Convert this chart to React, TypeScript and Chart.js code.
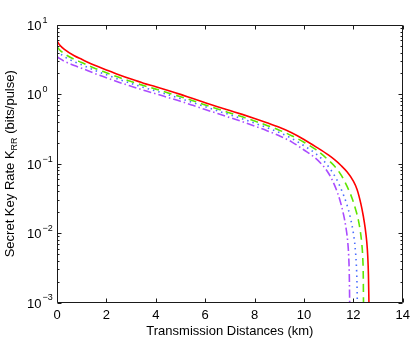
import React, { useEffect, useRef } from "react";
import { Chart, registerables } from "chart.js";

Chart.register(...registerables);

const FONT = '"Liberation Sans", Arial, Helvetica, sans-serif';

const xTicks = [0, 2, 4, 6, 8, 10, 12, 14];
const yDecades = [-3, -2, -1, 0, 1];

const redDist = [0, 0.1, 0.3, 0.7, 1, 1.5, 2, 2.5, 3, 3.5, 4, 4.5, 5, 5.5, 6, 6.5, 7, 7.5, 8, 8.5, 9, 9.5, 10, 10.5, 11, 11.25, 11.5, 11.75, 12, 12.15, 12.3, 12.4, 12.48, 12.54, 12.58, 12.61, 12.63];
const redRate = [5.9, 5.2, 4.45, 3.6, 3.2, 2.65, 2.25, 1.92, 1.66, 1.45, 1.29, 1.14, 1.0, 0.87, 0.76, 0.665, 0.585, 0.515, 0.45, 0.39, 0.335, 0.28, 0.224, 0.174, 0.133, 0.1135, 0.0944, 0.0759, 0.0562, 0.0427, 0.0269, 0.0178, 0.0117, 0.0076, 0.0048, 0.0025, 0.001];

const greenDist = [0, 0.1, 0.3, 0.7, 1, 1.5, 2, 2.5, 3, 3.5, 4, 4.5, 5, 5.5, 6, 6.5, 7, 7.5, 8, 8.5, 9, 9.5, 10, 10.5, 11, 11.25, 11.5, 11.75, 11.95, 12.1, 12.2, 12.28, 12.34, 12.38, 12.4, 12.41];
const greenRate = [4.9, 4.4, 3.85, 3.2, 2.88, 2.4, 2.05, 1.76, 1.53, 1.34, 1.19, 1.05, 0.925, 0.81, 0.705, 0.615, 0.54, 0.475, 0.413, 0.357, 0.305, 0.254, 0.204, 0.158, 0.112, 0.0912, 0.0692, 0.0468, 0.0316, 0.0214, 0.0155, 0.0107, 0.0071, 0.0044, 0.0025, 0.001];

const blueDist = [0, 0.1, 0.3, 0.7, 1, 1.5, 2, 2.5, 3, 3.5, 4, 4.5, 5, 5.5, 6, 6.5, 7, 7.5, 8, 8.5, 9, 9.5, 10, 10.5, 10.8, 11.05, 11.3, 11.52, 11.72, 11.88, 12.0, 12.07, 12.12, 12.145, 12.16];
const blueRate = [4.3, 3.95, 3.5, 2.95, 2.67, 2.24, 1.92, 1.65, 1.44, 1.26, 1.12, 0.99, 0.87, 0.765, 0.665, 0.58, 0.508, 0.445, 0.385, 0.332, 0.282, 0.232, 0.182, 0.138, 0.11, 0.0851, 0.0617, 0.0417, 0.0269, 0.0166, 0.01, 0.0063, 0.0035, 0.002, 0.001];

const purpleDist = [0, 0.1, 0.3, 0.7, 1, 1.5, 2, 2.5, 3, 3.5, 4, 4.5, 5, 5.5, 6, 6.5, 7, 7.5, 8, 8.5, 9, 9.5, 10, 10.4, 10.75, 11.0, 11.25, 11.45, 11.6, 11.7, 11.77, 11.81, 11.835, 11.85];
const purpleRate = [3.5, 3.3, 3.0, 2.6, 2.38, 2.02, 1.74, 1.5, 1.31, 1.15, 1.02, 0.9, 0.795, 0.695, 0.605, 0.53, 0.463, 0.405, 0.35, 0.3, 0.253, 0.207, 0.158, 0.126, 0.0955, 0.0724, 0.0479, 0.0302, 0.0186, 0.012, 0.0076, 0.0047, 0.0025, 0.001];

const toPoints = (xs: number[], ys: number[]) => xs.map((x, i) => ({ x, y: ys[i] }));

const framePlugin = {
  id: "frame",
  afterDraw(chart: any) {
    const ctx = chart.ctx as CanvasRenderingContext2D;
    const { left, right, top, bottom } = chart.chartArea;
    const xs = chart.scales.x;
    const ys = chart.scales.y;
    const L = Math.round(left) + 0.5;
    const R = Math.round(right) - 0.5;
    const T = Math.round(top) + 0.5;
    const B = Math.round(bottom) - 0.5;
    ctx.save();
    ctx.strokeStyle = "#1a1a1a";
    ctx.lineWidth = 1;
    ctx.beginPath();
    ctx.rect(L, T, R - L, B - T);
    ctx.stroke();
    ctx.beginPath();
    for (const v of xTicks) {
      const px = Math.round(xs.getPixelForValue(v)) + 0.5;
      ctx.moveTo(px, B);
      ctx.lineTo(px, B - 4);
      ctx.moveTo(px, T);
      ctx.lineTo(px, T + 4);
    }
    for (const e of yDecades) {
      const py = Math.round(ys.getPixelForValue(Math.pow(10, e))) + 0.5;
      ctx.moveTo(L, py);
      ctx.lineTo(L + 4, py);
      ctx.moveTo(R, py);
      ctx.lineTo(R - 4, py);
      if (e < 1) {
        for (let m = 2; m <= 9; m++) {
          const pm = Math.round(ys.getPixelForValue(m * Math.pow(10, e))) + 0.5;
          ctx.moveTo(L, pm);
          ctx.lineTo(L + 2, pm);
          ctx.moveTo(R, pm);
          ctx.lineTo(R - 2, pm);
        }
      }
    }
    ctx.stroke();

    ctx.fillStyle = "#000";
    ctx.textBaseline = "middle";
    ctx.textAlign = "left";
    for (const e of yDecades) {
      const py = ys.getPixelForValue(Math.pow(10, e));
      ctx.font = `13px ${FONT}`;
      ctx.fillText("10", 27, py + 1.5);
      const w = ctx.measureText("10").width;
      ctx.font = `9px ${FONT}`;
      const ex = e < 0 ? "\u2212" + Math.abs(e) : String(e);
      ctx.fillText(ex, 27 + w + 1, py - 4.5);
    }

    const main1 = "Secret Key Rate K";
    const sub = "RR";
    const main2 = " (bits/pulse)";
    ctx.font = `13px ${FONT}`;
    const w1 = ctx.measureText(main1).width;
    const w3 = ctx.measureText(main2).width;
    ctx.font = `9px ${FONT}`;
    const w2 = ctx.measureText(sub).width;
    const total = w1 + w2 + w3;
    const cy = (top + bottom) / 2;
    ctx.translate(13.5, cy);
    ctx.rotate(-Math.PI / 2);
    ctx.textBaseline = "alphabetic";
    let x0 = -total / 2;
    ctx.font = `13px ${FONT}`;
    ctx.fillText(main1, x0, 0);
    x0 += w1;
    ctx.font = `9px ${FONT}`;
    ctx.fillText(sub, x0, 3.5);
    x0 += w2;
    ctx.font = `13px ${FONT}`;
    ctx.fillText(main2, x0, 0);
    ctx.restore();
  },
};

export default function App() {
  const ref = useRef<HTMLCanvasElement | null>(null);
  useEffect(() => {
    document.body.style.margin = "0";
    if (!ref.current) return;
    const common = { pointRadius: 0, borderWidth: 1.6, fill: false, cubicInterpolationMode: "monotone" as const };
    const chart = new Chart(ref.current, {
      type: "line",
      data: {
        datasets: [
          { ...common, data: toPoints(redDist, redRate), borderColor: "#ff0000" },
          { ...common, data: toPoints(greenDist, greenRate), borderColor: "#5fe600", borderDash: [8, 5] },
          { ...common, data: toPoints(blueDist, blueRate), borderColor: "#4a6cff", borderDash: [1.5, 4] },
          { ...common, data: toPoints(purpleDist, purpleRate), borderColor: "#aa4cff", borderDash: [8, 3, 1.5, 3] },
        ],
      },
      options: {
        animation: false,
        responsive: false,
        devicePixelRatio: 1,
        layout: { padding: { top: 25, right: 7.5, left: 0, bottom: 0 } },
        plugins: { legend: { display: false }, tooltip: { enabled: false } },
        scales: {
          x: {
            type: "linear",
            min: 0,
            max: 14,
            afterFit: (s: any) => { s.height = 38.5; },
            afterBuildTicks: (s: any) => { s.ticks = xTicks.map((v) => ({ value: v })); },
            ticks: { color: "#000", font: { family: FONT, size: 13 }, padding: 5, maxRotation: 0 },
            grid: { display: false, drawTicks: false },
            border: { display: false },
            title: { display: true, text: "Transmission Distances (km)", color: "#000", font: { family: FONT, size: 13 }, padding: { top: 0, bottom: 2 } },
          },
          y: {
            type: "logarithmic",
            min: 0.001,
            max: 10,
            afterFit: (s: any) => { s.width = 57; },
            ticks: { display: false },
            grid: { display: false, drawTicks: false },
            border: { display: false },
          },
        },
      },
      plugins: [framePlugin],
    });
    return () => chart.destroy();
  }, []);
  return <canvas ref={ref} width={415} height={341} style={{ display: "block" }} />;
}
